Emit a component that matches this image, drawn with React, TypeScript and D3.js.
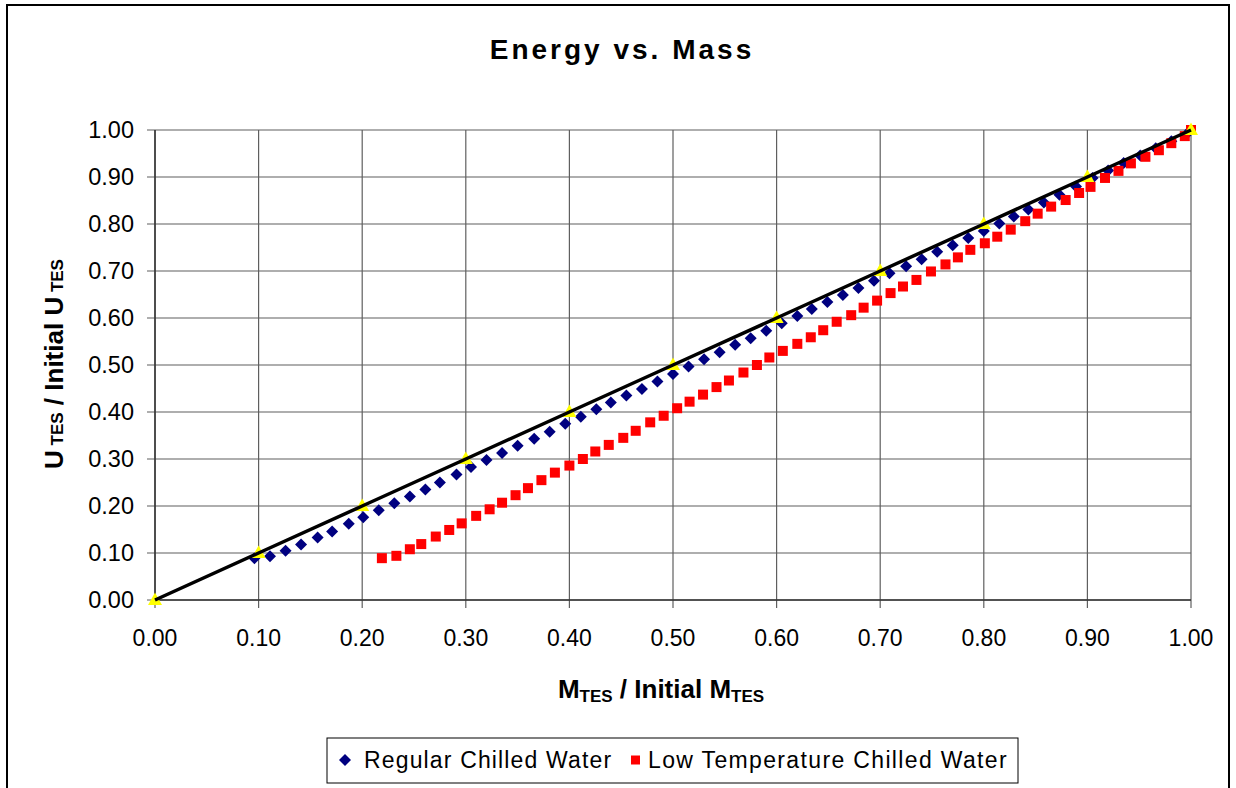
import React from "react";
import * as d3 from "d3";

const regularX = [0.096,0.111,0.126,0.141,0.157,0.171,0.187,0.201,0.216,0.231,0.246,0.261,0.275,0.291,0.305,0.320,0.335,0.350,0.366,0.381,0.396,0.411,0.426,0.440,0.455,0.470,0.485,0.500,0.515,0.530,0.545,0.560,0.575,0.590,0.605,0.620,0.634,0.649,0.664,0.679,0.694,0.709,0.725,0.740,0.755,0.770,0.785,0.800,0.815,0.829,0.843,0.858,0.873,0.889,0.905,0.920,0.935,0.951,0.966,0.981,0.996];
const regularY = [0.089,0.093,0.105,0.118,0.133,0.146,0.162,0.176,0.191,0.206,0.220,0.235,0.250,0.267,0.283,0.298,0.313,0.328,0.343,0.358,0.375,0.390,0.406,0.420,0.435,0.449,0.465,0.481,0.497,0.512,0.527,0.543,0.557,0.573,0.589,0.604,0.619,0.634,0.649,0.664,0.679,0.695,0.710,0.725,0.741,0.755,0.770,0.785,0.801,0.816,0.831,0.846,0.862,0.880,0.898,0.914,0.930,0.946,0.961,0.976,0.992];

const lowX = [0.219,0.233,0.246,0.257,0.271,0.284,0.296,0.310,0.323,0.335,0.348,0.360,0.373,0.386,0.400,0.413,0.425,0.438,0.452,0.464,0.478,0.491,0.504,0.516,0.529,0.542,0.554,0.568,0.581,0.593,0.606,0.620,0.633,0.645,0.658,0.672,0.684,0.697,0.710,0.722,0.735,0.749,0.763,0.775,0.787,0.801,0.813,0.826,0.840,0.852,0.865,0.879,0.892,0.903,0.917,0.930,0.942,0.956,0.969,0.981,0.994,1.000];
const lowY = [0.089,0.094,0.108,0.119,0.135,0.149,0.163,0.179,0.193,0.207,0.223,0.238,0.255,0.271,0.286,0.300,0.316,0.330,0.345,0.360,0.378,0.392,0.408,0.422,0.437,0.453,0.467,0.484,0.500,0.516,0.530,0.545,0.559,0.574,0.592,0.606,0.622,0.637,0.653,0.667,0.681,0.699,0.714,0.729,0.745,0.759,0.773,0.788,0.806,0.822,0.837,0.851,0.866,0.879,0.898,0.913,0.929,0.943,0.957,0.972,0.987,1.000];

const refX = [0,0.1,0.2,0.3,0.4,0.5,0.6,0.7,0.8,0.9,1.0];
const refY = [0,0.1,0.2,0.3,0.4,0.5,0.6,0.7,0.8,0.9,1.0];

const tickValues = [0,0.1,0.2,0.3,0.4,0.5,0.6,0.7,0.8,0.9,1.0];

const title = "Energy vs. Mass";
const legendLabels = ["Regular Chilled Water", "Low Temperature Chilled Water"];

const FONT = "'Liberation Sans', Arial, sans-serif";

export default function App() {
  const x = d3.scaleLinear().domain([0, 1]).range([155, 1191]);
  const y = d3.scaleLinear().domain([0, 1]).range([600, 130]);
  const fmt = d3.format(".2f");
  const line = d3.line<number>().x((d, i) => x(refX[i])).y((d, i) => y(refY[i]));
  const grid = "#5f5f5f";
  const dH = 6;
  const sq = 10;

  return (
    <svg width={1236} height={788} style={{ position: "absolute", left: 0, top: 0, background: "#fff" }} fontFamily={FONT}>
      <rect x={0} y={0} width={1236} height={788} fill="#fff" />
      <rect x={7} y={5} width={1222} height={800} fill="none" stroke="#000" strokeWidth={2} />
      <text x={622} y={59} textAnchor="middle" fontSize={28} fontWeight="bold" letterSpacing={3}>{title}</text>

      {/* grid */}
      {tickValues.map((t) => (
        <line key={"h" + t} x1={x(0) - 8} x2={x(1)} y1={y(t)} y2={y(t)} stroke={grid} strokeWidth={1.2} />
      ))}
      {tickValues.map((t) => (
        <line key={"v" + t} x1={x(t)} x2={x(t)} y1={y(1)} y2={y(0) + 8} stroke={grid} strokeWidth={1.2} />
      ))}
      <line x1={x(0)} x2={x(0)} y1={y(1)} y2={y(0)} stroke="#333" strokeWidth={1.5} />
      <line x1={x(0)} x2={x(1)} y1={y(0)} y2={y(0)} stroke="#333" strokeWidth={1.5} />

      {/* tick labels */}
      {tickValues.map((t) => (
        <text key={"yl" + t} x={134} y={y(t) + 8} textAnchor="end" fontSize={23.5}>{fmt(t)}</text>
      ))}
      {tickValues.map((t) => (
        <text key={"xl" + t} x={x(t)} y={646} textAnchor="middle" fontSize={23}>{fmt(t)}</text>
      ))}

      {/* axis titles */}
      <text x={661} y={698} textAnchor="middle" fontSize={26} fontWeight="bold">
        M<tspan fontSize={17} dy={4}>TES</tspan><tspan dy={-4}> / Initial M</tspan><tspan fontSize={17} dy={4}>TES</tspan>
      </text>
      <text transform="translate(63,364) rotate(-90)" textAnchor="middle" fontSize={26} fontWeight="bold">
        U<tspan fontSize={17}> TES</tspan><tspan> / Initial U</tspan><tspan fontSize={17}> TES</tspan>
      </text>

      {/* series */}
      {regularX.map((v, i) => {
        const cx = x(v), cy = y(regularY[i]);
        return <polygon key={"r" + i} points={`${cx},${cy - dH} ${cx + dH},${cy} ${cx},${cy + dH} ${cx - dH},${cy}`} fill="#000080" />;
      })}
      {lowX.map((v, i) => (
        <rect key={"l" + i} x={x(v) - sq / 2} y={y(lowY[i]) - sq / 2} width={sq} height={sq} fill="#ff0000" />
      ))}
      {refX.map((v, i) => {
        const cx = x(v), cy = y(refY[i]);
        return <polygon key={"t" + i} points={`${cx},${cy - 7.5} ${cx + 7},${cy + 5} ${cx - 7},${cy + 5}`} fill="#ffff00" />;
      })}
      <path d={line(refX) || ""} fill="none" stroke="#000" strokeWidth={3.5} />

      {/* legend */}
      <rect x={327} y={738} width={691} height={45} fill="#fff" stroke="#000" strokeWidth={1} />
      <polygon points={`${345},${754} ${351},${760} ${345},${766} ${339},${760}`} fill="#000080" />
      <text x={364} y={768} fontSize={23} letterSpacing={1.15}>{legendLabels[0]}</text>
      <rect x={631} y={755.5} width={9} height={9} fill="#ff0000" />
      <text x={648} y={768} fontSize={23} letterSpacing={1.35}>{legendLabels[1]}</text>
    </svg>
  );
}
